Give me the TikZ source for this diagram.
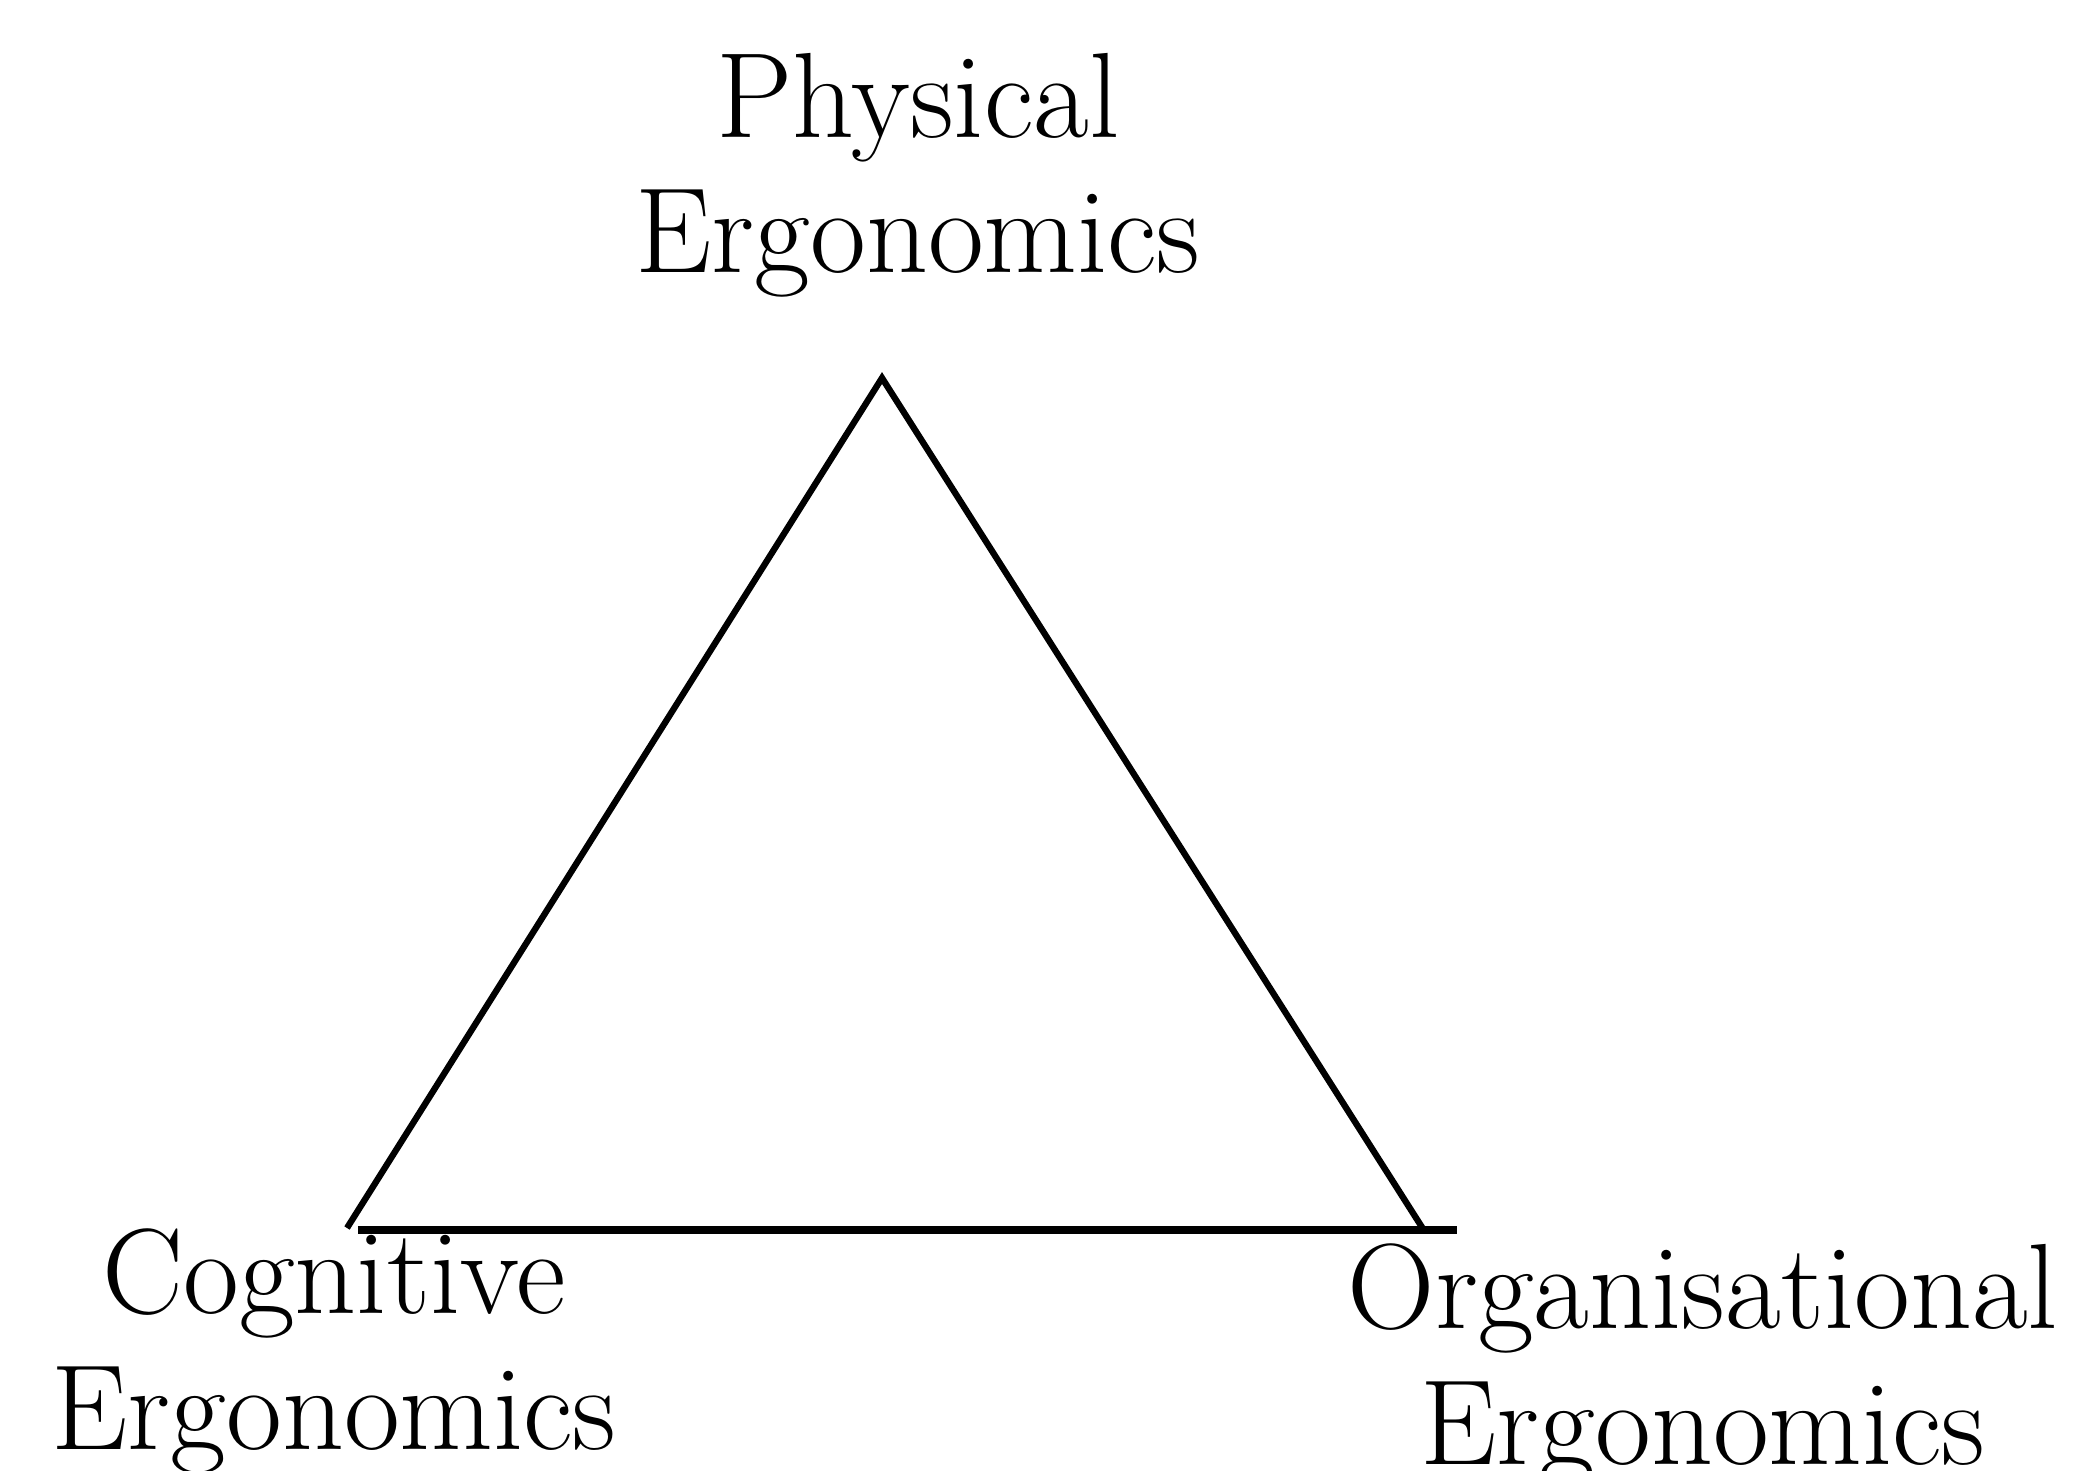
\documentclass[tikz,border=0pt]{standalone}
\usepackage{tikz}
\tikzset{
    ergolabel/.style={align=center, inner sep=0pt, anchor=base,
      font=\fontsize{34.5}{38.5}\selectfont},
    ergoside/.style={-, line width=1.8pt, black},
    ergobase/.style={-, line width=2.4pt, black},
}
\begin{document}
\begin{tikzpicture}[x=0.01cm,y=-0.01cm]
  \useasboundingbox (0,0) rectangle (2086,1471);
  % corners of the triangle
  \coordinate (top) at (882,378);
  \coordinate (left) at (347,1228);
  \coordinate (right) at (1425,1232);
  \coordinate (baseL) at (358,1230);
  \coordinate (baseR) at (1457,1230);
  % sides
  \draw[ergoside] (left) -- (top) -- (right);
  \draw[ergobase] (baseL) -- (baseR);
  % LABELS (anchor = baseline of the last line)
  \node[ergolabel] (phys) at (918,273) {Physical\\Ergonomics};
  \node[ergolabel] (cog) at (334,1449) {Cognitive\\Ergonomics};
  \node[ergolabel] (org) at (1703,1464) {Organisational\\Ergonomics};
\end{tikzpicture}
\end{document}
